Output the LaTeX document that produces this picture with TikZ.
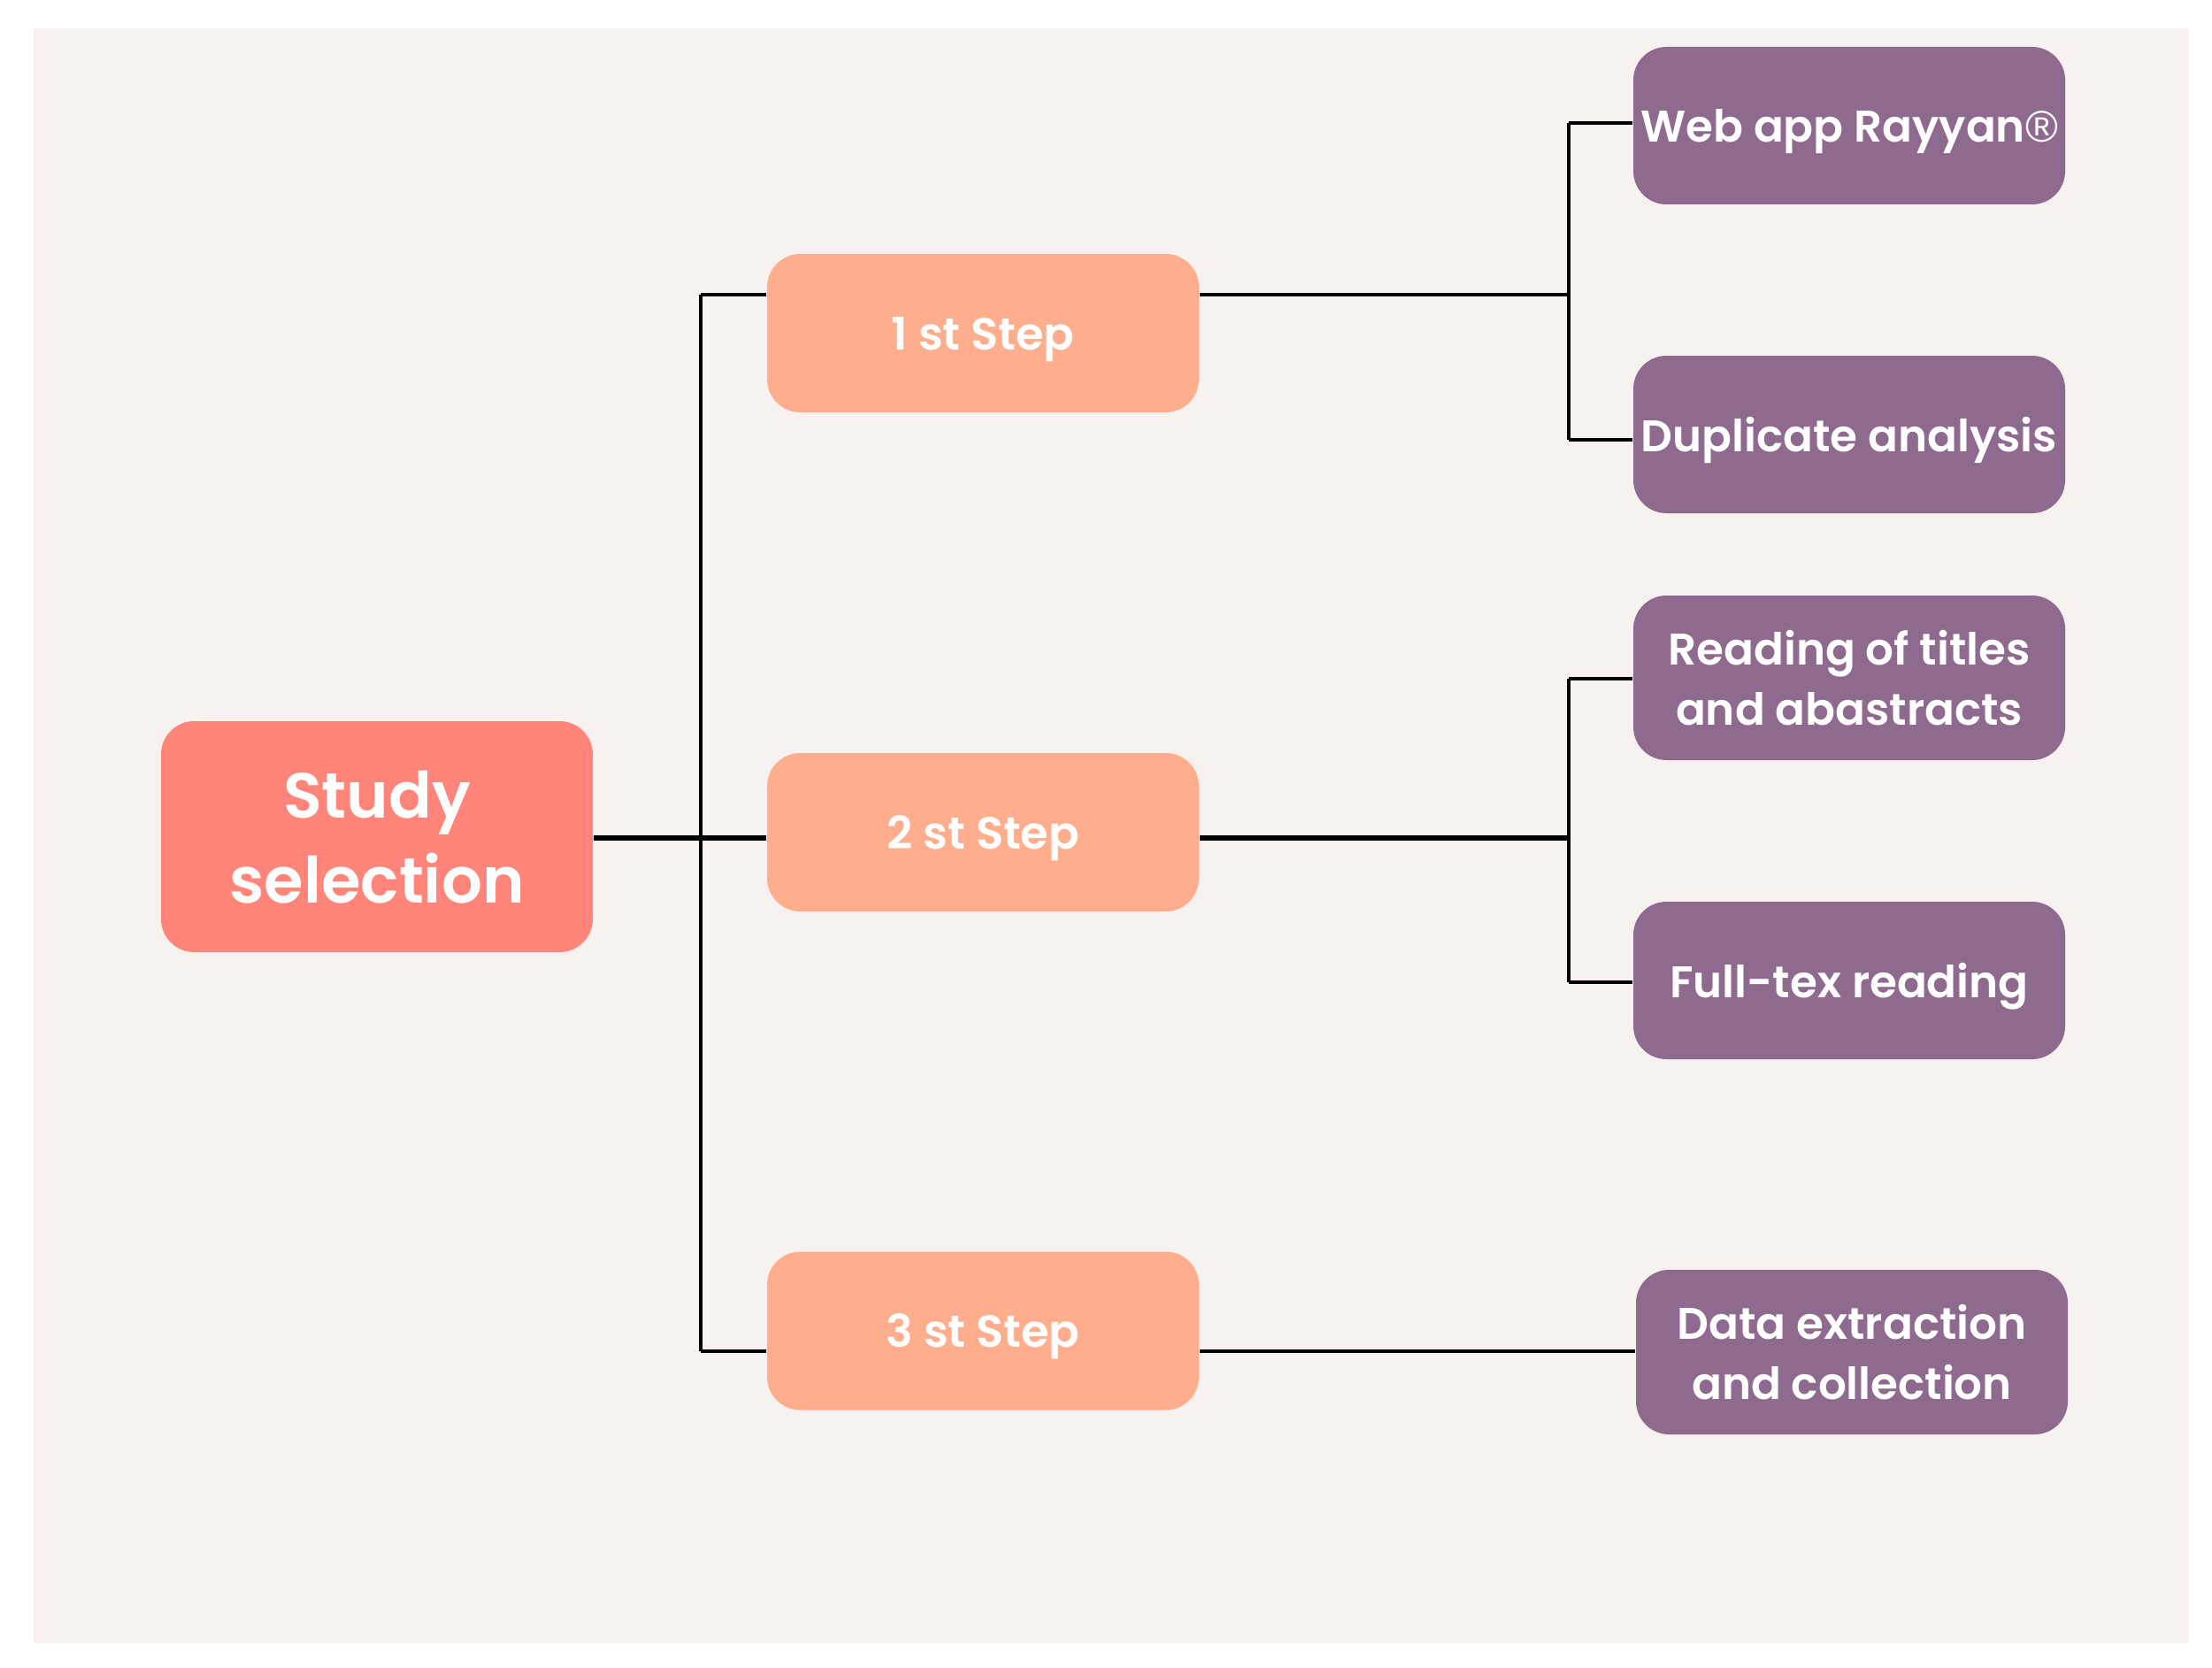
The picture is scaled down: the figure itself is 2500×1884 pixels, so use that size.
\documentclass[tikz,border=0pt]{standalone}
\usepackage{fontspec}
\setmainfont{Poppins}[BoldFont={* SemiBold}]
\newfontfamily\regfont{Liberation Sans}
\definecolor{bgc}{HTML}{F7F1F0}
\definecolor{studyc}{HTML}{FF8479}
\definecolor{stepc}{HTML}{FFAE8D}
\definecolor{purc}{HTML}{8F6A8F}
\begin{document}
\begin{tikzpicture}[x=0.24pt,y=-0.24pt,
  box/.style={rounded corners=9pt,inner sep=0pt,align=center,text=white,text depth=0pt,minimum width=488*0.24pt},
  studybox/.style={box,fill=studyc,minimum height=261*0.24pt,font=\fontsize{17.3}{23}\selectfont\bfseries},
  stepbox/.style={box,fill=stepc,minimum height=179*0.24pt,font=\fontsize{12.2}{16}\selectfont\bfseries},
  purbox/.style={box,fill=purc,font=\fontsize{12}{16.5}\selectfont\bfseries},
  thin/.style={line width=0.85pt,black},
  thick/.style={line width=1.5pt,black}]
\fill[white] (0,0) rectangle (2500,1884);
\fill[bgc] (38,32) rectangle (2473,1857);
\node[studybox] (study) at (426,945.5) {Study\\selection};
\node[stepbox] (s1) at (1111,376.5) {1 st Step};
\node[stepbox] (s2) at (1111,940.5) {2 st Step};
\node[stepbox] (s3) at (1111,1504) {3 st Step};
\node[purbox,minimum height=178*0.24pt] (web) at (2090,142) {Web app Rayyan{\regfont\mdseries ®}};
\node[purbox,minimum height=178*0.24pt] (dup) at (2090,491) {Duplicate analysis};
\node[purbox,minimum height=186*0.24pt] (read) at (2090,766) {Reading of titles\\and abastracts};
\node[purbox,minimum height=178*0.24pt] (full) at (2090,1108) {Full-tex reading};
\node[purbox,minimum height=186*0.24pt] (data) at (2093,1528) {Data extraction\\and collection};
% trunk
\coordinate (tTop) at (792,333);
\coordinate (tMid) at (792,947);
\coordinate (tBot) at (792,1527);
\draw[thin] (tTop) -- (tBot);
\draw[thin] (tTop) -- (s1.west |- tTop);
\draw[thin] (tBot) -- (s3.west |- tBot);
\draw[thick] (study.east |- tMid) -- (s2.west |- tMid);
% step1 branch
\coordinate (b1) at (1773,333);
\coordinate (b1t) at (1773,139);
\coordinate (b1b) at (1773,497);
\draw[thin] (s1.east |- b1) -- (b1);
\draw[thin] (b1t) -- (b1b);
\draw[thin] (b1t) -- (web.west |- b1t);
\draw[thin] (b1b) -- (dup.west |- b1b);
% step2 branch
\coordinate (b2) at (1773,947);
\coordinate (b2t) at (1773,767);
\coordinate (b2b) at (1773,1110);
\draw[thick] (s2.east |- b2) -- (b2);
\draw[thin] (b2t) -- (b2b);
\draw[thin] (b2t) -- (read.west |- b2t);
\draw[thin] (b2b) -- (full.west |- b2b);
% step3 branch
\draw[thin] (s3.east |- tBot) -- (data.west |- tBot);
\end{tikzpicture}
\end{document}
